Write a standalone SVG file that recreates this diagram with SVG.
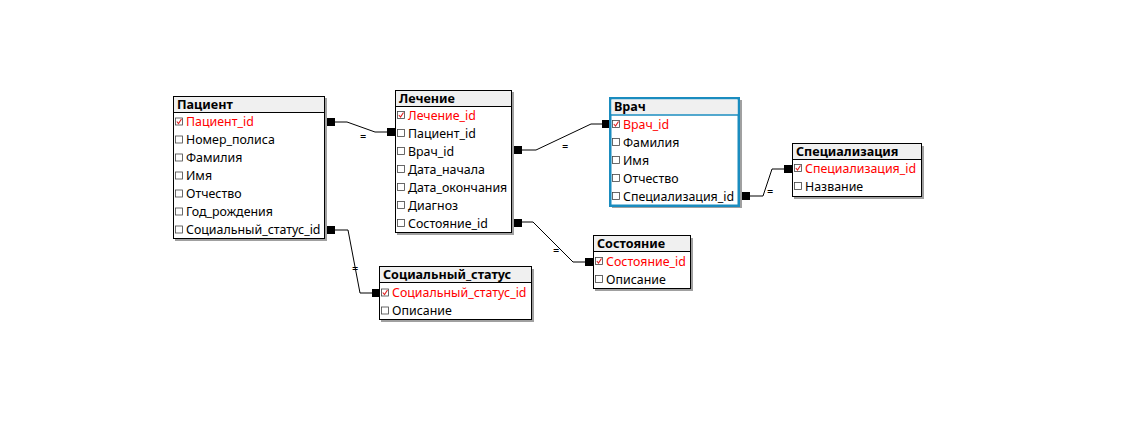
<svg xmlns="http://www.w3.org/2000/svg" width="1143" height="427" viewBox="0 0 1143 427">
<defs>
<style>
.t{font-family:"Noto Sans","DejaVu Sans",sans-serif;font-size:12.4px;fill:#000}
.pk{fill:#ff0000}
.h{font-family:"Noto Sans","DejaVu Sans",sans-serif;font-size:12.6px;font-weight:bold;fill:#000}
.box{fill:#fff;stroke:#000;stroke-width:1}
.sel{fill:#fff;stroke:#1a8cbf;stroke-width:2.5}
.hdr{fill:#f0f0f0}
.sh{fill:#a0a0a0}
.sep{stroke:#000;stroke-width:1}
.cb{fill:#fff;stroke:#444;stroke-width:0.8}
.ck{fill:none;stroke:#e02020;stroke-width:1.1}
.ln{fill:none;stroke:#000;stroke-width:1}
.sq{fill:#000}
.eq{font-family:"Noto Sans","DejaVu Sans",sans-serif;font-size:11px;fill:#000}
</style>
<g id="cbx"><rect class="cb" x="0.5" y="-3.5" width="7" height="7"/></g>
<g id="cbk"><rect class="cb" x="0.5" y="-3.5" width="7" height="7"/><polyline class="ck" points="1.8,0 3.5,2 6.5,-2.5"/></g>
</defs>

<g id="connectors">
<rect class="sq" x="327" y="118" width="8" height="8"/>
<polyline class="ln" points="335,122 347,122 375,132 387,132"/>
<rect class="sq" x="387" y="128" width="8" height="8"/>
<text class="eq" x="360" y="140">=</text>

<rect class="sq" x="514" y="146" width="8" height="8"/>
<polyline class="ln" points="522,150 536,150 591,124 602,124"/>
<rect class="sq" x="602" y="120" width="8" height="8"/>
<text class="eq" x="562" y="150">=</text>

<rect class="sq" x="742" y="192" width="8" height="8"/>
<polyline class="ln" points="750,196 763,196 772,169 784,169"/>
<rect class="sq" x="784" y="165" width="8" height="8"/>
<text class="eq" x="767" y="195">=</text>

<rect class="sq" x="327" y="226" width="8" height="8"/>
<polyline class="ln" points="335,230 348,230 360,293 372,293"/>
<rect class="sq" x="372" y="289" width="8" height="8"/>
<text class="eq" x="352" y="272">=</text>

<rect class="sq" x="514" y="219" width="8" height="8"/>
<polyline class="ln" points="522,222 533,222 573,262 585,262"/>
<rect class="sq" x="585" y="258" width="8" height="8"/>
<text class="eq" x="553" y="254">=</text>
</g>

<g id="patient">
<rect class="sh" x="175" y="98" width="152" height="143"/>
<rect class="box" x="173.5" y="96.5" width="151" height="142"/>
<rect class="hdr" x="174" y="97" width="150" height="15"/>
<line class="sep" x1="173.5" y1="112.5" x2="324.5" y2="112.5"/>
<text class="h" x="177" y="109">Пациент</text>
<use href="#cbk" x="175" y="121.5"/><text class="t pk" x="186" y="126">Пациент_id</text>
<use href="#cbx" x="175" y="139.5"/><text class="t" x="186" y="144">Номер_полиса</text>
<use href="#cbx" x="175" y="157.5"/><text class="t" x="186" y="162">Фамилия</text>
<use href="#cbx" x="175" y="175.5"/><text class="t" x="186" y="180">Имя</text>
<use href="#cbx" x="175" y="193.5"/><text class="t" x="186" y="198">Отчество</text>
<use href="#cbx" x="175" y="211.5"/><text class="t" x="186" y="216">Год_рождения</text>
<use href="#cbx" x="175" y="229.5"/><text class="t" x="186" y="234">Социальный_статус_id</text>
</g>

<g id="treatment">
<rect class="sh" x="397" y="92" width="117" height="143"/>
<rect class="box" x="395.5" y="90.5" width="116" height="142"/>
<rect class="hdr" x="396" y="91" width="115" height="15"/>
<line class="sep" x1="395.5" y1="106.5" x2="511.5" y2="106.5"/>
<text class="h" x="399" y="103">Лечение</text>
<use href="#cbk" x="397" y="115"/><text class="t pk" x="408" y="119.5">Лечение_id</text>
<use href="#cbx" x="397" y="133"/><text class="t" x="408" y="137.5">Пациент_id</text>
<use href="#cbx" x="397" y="151"/><text class="t" x="408" y="155.5">Врач_id</text>
<use href="#cbx" x="397" y="169"/><text class="t" x="408" y="173.5">Дата_начала</text>
<use href="#cbx" x="397" y="187"/><text class="t" x="408" y="191.5">Дата_окончания</text>
<use href="#cbx" x="397" y="205"/><text class="t" x="408" y="209.5">Диагноз</text>
<use href="#cbx" x="397" y="223"/><text class="t" x="408" y="227.5">Состояние_id</text>
</g>

<g id="doctor">
<rect class="sh" x="612" y="100" width="130" height="108"/>
<rect class="sel" x="610.25" y="98.25" width="128.5" height="107.5"/>
<rect class="hdr" x="611.5" y="99.5" width="126" height="15"/>
<line x1="611" y1="115" x2="738" y2="115" stroke="#1a8cbf" stroke-width="1.5"/>
<text class="h" x="614" y="111">Врач</text>
<use href="#cbk" x="612" y="124"/><text class="t pk" x="623" y="128.5">Врач_id</text>
<use href="#cbx" x="612" y="142"/><text class="t" x="623" y="146.5">Фамилия</text>
<use href="#cbx" x="612" y="160"/><text class="t" x="623" y="164.5">Имя</text>
<use href="#cbx" x="612" y="178"/><text class="t" x="623" y="182.5">Отчество</text>
<use href="#cbx" x="612" y="196"/><text class="t" x="623" y="200.5">Специализация_id</text>
</g>

<g id="specialization">
<rect class="sh" x="794" y="146" width="130" height="53"/>
<rect class="box" x="792.5" y="143.5" width="129" height="53"/>
<rect class="hdr" x="793" y="144" width="128" height="15"/>
<line class="sep" x1="792.5" y1="159.5" x2="921.5" y2="159.5"/>
<text class="h" x="796" y="156">Специализация</text>
<use href="#cbk" x="794" y="168"/><text class="t pk" x="805" y="172.5">Специализация_id</text>
<use href="#cbx" x="794" y="186"/><text class="t" x="805" y="190.5">Название</text>
</g>

<g id="social_status">
<rect class="sh" x="381" y="269" width="153" height="53"/>
<rect class="box" x="379.5" y="266.5" width="152" height="53"/>
<rect class="hdr" x="380" y="267" width="151" height="15"/>
<line class="sep" x1="379.5" y1="282.5" x2="531.5" y2="282.5"/>
<text class="h" x="383" y="279">Социальный_статус</text>
<use href="#cbk" x="381" y="292.5"/><text class="t pk" x="392" y="297">Социальный_статус_id</text>
<use href="#cbx" x="381" y="310.5"/><text class="t" x="392" y="315">Описание</text>
</g>

<g id="state">
<rect class="sh" x="595" y="238" width="98" height="53"/>
<rect class="box" x="593.5" y="235.5" width="97" height="53"/>
<rect class="hdr" x="594" y="236" width="96" height="15"/>
<line class="sep" x1="593.5" y1="251.5" x2="690.5" y2="251.5"/>
<text class="h" x="597" y="248">Состояние</text>
<use href="#cbk" x="595" y="261"/><text class="t pk" x="606" y="265.5">Состояние_id</text>
<use href="#cbx" x="595" y="279"/><text class="t" x="606" y="283.5">Описание</text>
</g>
</svg>
